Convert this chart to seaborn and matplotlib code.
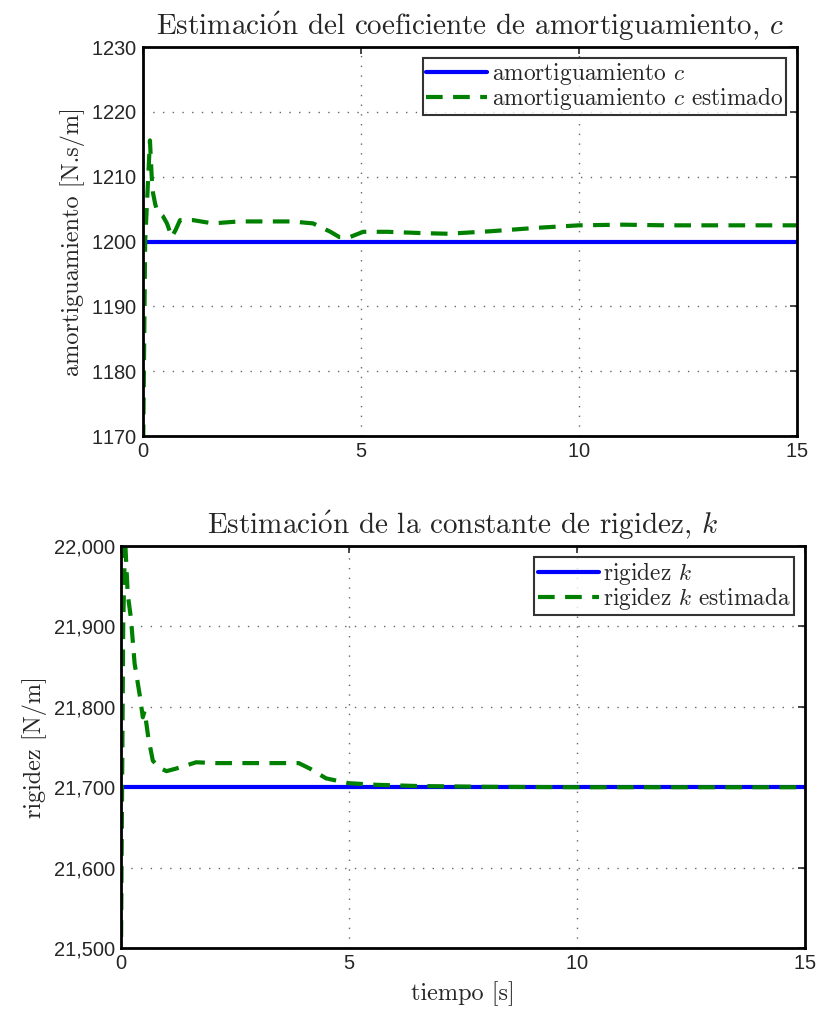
import numpy as np
import pandas as pd
import matplotlib
matplotlib.use("Agg")
import matplotlib.pyplot as plt
import matplotlib.ticker as mticker
import seaborn as sns

# ---- data ----
t_c = [0.0, 0.0, 0.05, 0.16, 0.2, 0.23, 0.28, 0.32, 0.45, 0.55, 0.66, 0.75, 0.85, 1.15, 1.6, 2.2,
       3.4, 3.9, 4.3, 4.5, 4.75, 5.05, 5.6, 6.4, 7.0, 8.0, 9.0, 10.0, 11.0, 12.0, 13.0, 14.0, 15.0]
c_est = [1165.0, 1165.0, 1200.0, 1215.6, 1210.0, 1207.5, 1205.8, 1204.8, 1204.0, 1202.8, 1200.7,
         1201.8, 1203.3, 1203.3, 1202.8, 1203.1, 1203.1, 1202.8, 1201.5, 1200.7, 1200.7, 1201.5,
         1201.5, 1201.3, 1201.2, 1201.6, 1202.1, 1202.5, 1202.6, 1202.5, 1202.5, 1202.5, 1202.5]
c_true = 1200.0

t_k = [0.0, 0.0, 0.05, 0.09, 0.15, 0.22, 0.3, 0.42, 0.48, 0.52, 0.6, 0.7, 0.85, 1.0, 1.2, 1.65,
       2.1, 3.4, 3.9, 4.15, 4.5, 5.0, 5.6, 6.5, 8.0, 10.0, 12.0, 15.0]
k_est = [21480.0, 21480.0, 21900.0, 22010.0, 21940.0, 21910.0, 21854.0, 21812.0, 21787.0, 21795.0,
         21762.0, 21733.0, 21724.0, 21720.0, 21723.0, 21731.0, 21730.0, 21730.0, 21730.0, 21723.0,
         21711.0, 21705.0, 21703.0, 21701.5, 21700.5, 21700.0, 21700.0, 21700.0]
k_true = 21700.0

x_ticks = [0, 5, 10, 15]
c_ticks = [1170, 1180, 1190, 1200, 1210, 1220, 1230]
k_ticks = [21500, 21600, 21700, 21800, 21900, 22000]

title_c = r"Estimaci$\mathrm{\acute{o}}$n del coeficiente de amortiguamiento, $c$"
title_k = r"Estimaci$\mathrm{\acute{o}}$n de la constante de rigidez, $k$"

sns.set_style("white")
plt.rcParams["mathtext.fontset"] = "cm"
plt.rcParams["axes.formatter.use_mathtext"] = True
serif = ["cmr10", "DejaVu Serif"]
sans = ["Liberation Sans", "DejaVu Sans"]

fig = plt.figure(figsize=(8.17, 10.14), dpi=100)
ax1 = fig.add_axes([0.175, 0.570, 0.8005, 0.3836])
ax2 = fig.add_axes([0.148, 0.0651, 0.837, 0.3964])

blue = "#0000ff"
green = "#008000"

def style(ax, yt, xlabel=None, ylabel=None, title=None, fmt=None):
    ax.set_xlim(0, 15)
    ax.set_ylim(yt[0], yt[-1])
    ax.set_xticks(x_ticks)
    ax.set_yticks(yt)
    if fmt is not None:
        ax.yaxis.set_major_formatter(fmt)
    ax.grid(True, linestyle=(0, (1, 6)), color="#666666", linewidth=1.0)
    ax.tick_params(direction="in", length=5, width=1.2, top=True, right=True,
                   labelsize=14.5, pad=4)
    for lab in ax.get_xticklabels() + ax.get_yticklabels():
        lab.set_family(sans)
    for s in ax.spines.values():
        s.set_linewidth(2.0)
        s.set_color("black")
    if ylabel:
        ax.set_ylabel(ylabel, fontsize=17.5, family=serif, labelpad=5)
    if xlabel:
        ax.set_xlabel(xlabel, fontsize=17.5, family=serif, labelpad=6)
    else:
        ax.set_xlabel("")
    if title:
        ax.set_title(title, fontsize=21, family=serif, pad=9)

df_c = pd.DataFrame({"t": t_c, "v": c_est})
df_ct = pd.DataFrame({"t": [0, 15], "v": [c_true, c_true]})
sns.lineplot(data=df_ct, x="t", y="v", ax=ax1, color=blue, linewidth=3,
             label=r"amortiguamiento $c$")
sns.lineplot(data=df_c, x="t", y="v", ax=ax1, color=green, linewidth=3,
             linestyle=(0, (4, 2.5)), label=r"amortiguamiento $c$ estimado")
style(ax1, c_ticks, ylabel="amortiguamiento [N.s/m]", title=title_c)

df_k = pd.DataFrame({"t": t_k, "v": k_est})
df_kt = pd.DataFrame({"t": [0, 15], "v": [k_true, k_true]})
sns.lineplot(data=df_kt, x="t", y="v", ax=ax2, color=blue, linewidth=3,
             label=r"rigidez $k$")
sns.lineplot(data=df_k, x="t", y="v", ax=ax2, color=green, linewidth=3,
             linestyle=(0, (4, 2.5)), label=r"rigidez $k$ estimada")
style(ax2, k_ticks, xlabel="tiempo [s]", ylabel="rigidez [N/m]", title=title_k,
      fmt=mticker.FuncFormatter(lambda v, p: f"{int(v):,}"))

for ax in (ax1, ax2):
    leg = ax.legend(loc="upper right", frameon=True, fancybox=False,
                    prop={"family": serif, "size": 16.8}, handlelength=2.6,
                    handletextpad=0.2, labelspacing=-0.1, borderpad=0.15,
                    borderaxespad=0.45)
    leg.get_frame().set_edgecolor("black")
    leg.get_frame().set_linewidth(1.5)

fig.savefig("out.png", dpi=100)
